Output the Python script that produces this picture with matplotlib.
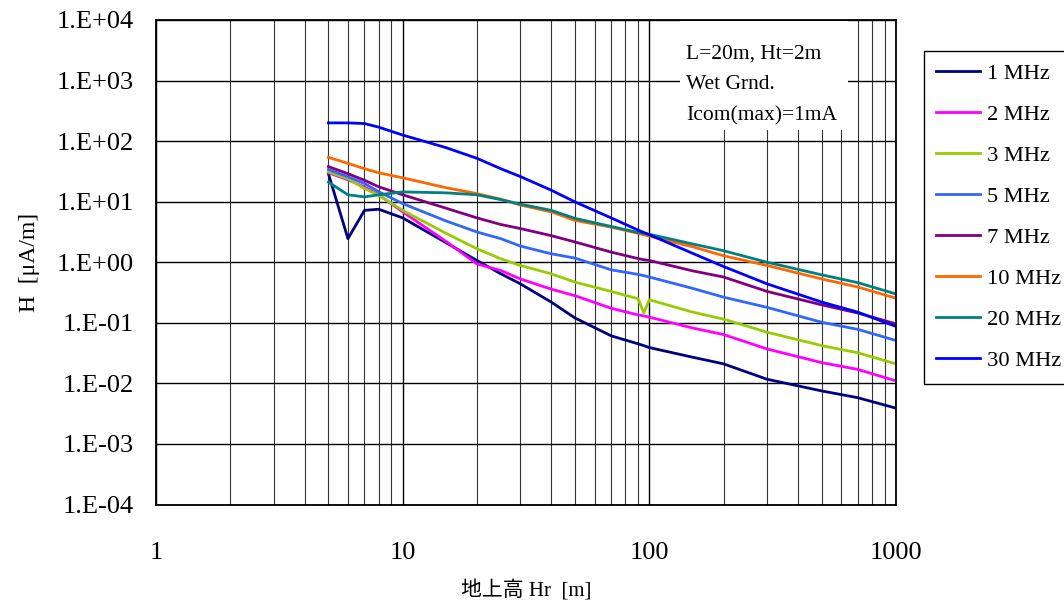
import matplotlib
matplotlib.use("Agg")
import matplotlib.pyplot as plt
from matplotlib.ticker import FixedLocator, NullFormatter, NullLocator

plt.rcParams['font.family'] = ['Liberation Serif', 'Noto Sans CJK JP', 'DejaVu Sans']

# Distance (Hr, m)
x = [5, 6, 7, 8, 10, 15, 20, 25, 30, 40, 50, 70, 90, 95, 100, 150, 200, 300, 500, 700, 1000]

# Magnetic field H [uA/m] per frequency
h_1mhz  = [29, 2.45, 7.2, 7.5, 5.4, 2.1, 1.07, 0.645, 0.44, 0.22, 0.12, 0.061, 0.045, 0.042, 0.039, 0.027, 0.021, 0.0117, 0.0075, 0.0058, 0.0039]
h_2mhz  = [30, 23, 17.5, 13, 6.8, 2.2, 0.94, 0.73, 0.53, 0.36, 0.28, 0.174, 0.135, 0.13, 0.124, 0.082, 0.064, 0.037, 0.022, 0.017, 0.011]
h_3mhz  = [31, 24, 16.5, 12.8, 7.2, 3.0, 1.67, 1.14, 0.885, 0.645, 0.47, 0.33, 0.25, 0.146, 0.24, 0.15, 0.115, 0.07, 0.042, 0.032, 0.021]
h_5mhz  = [34, 25.8, 20, 14.6, 9.3, 4.8, 3.16, 2.45, 1.85, 1.38, 1.17, 0.75, 0.63, 0.6, 0.57, 0.37, 0.265, 0.18, 0.102, 0.078, 0.051]
h_7mhz  = [38, 29, 22.6, 17.6, 13, 7.8, 5.4, 4.2, 3.6, 2.75, 2.16, 1.47, 1.15, 1.1, 1.07, 0.72, 0.57, 0.33, 0.198, 0.145, 0.096]
h_10mhz = [54, 43, 35, 30, 24.8, 17, 13.6, 11.0, 8.8, 6.8, 4.9, 3.8, 3.0, 2.85, 2.7, 1.8, 1.28, 0.885, 0.53, 0.39, 0.255]
h_20mhz = [21, 13, 12, 13, 14.5, 14, 13, 10.8, 9.1, 7.2, 5.3, 3.9, 3.1, 3.0, 2.9, 2.0, 1.55, 1.0, 0.62, 0.46, 0.30]
h_30mhz = [200, 200, 195, 170, 126, 78, 52, 35, 26, 15.5, 9.9, 5.4, 3.4, 3.1, 2.85, 1.4, 0.85, 0.44, 0.22, 0.15, 0.087]

series = [h_1mhz, h_2mhz, h_3mhz, h_5mhz, h_7mhz, h_10mhz, h_20mhz, h_30mhz]
labels = ["1 MHz", "2 MHz", "3 MHz", "5 MHz", "7 MHz", "10 MHz", "20 MHz", "30 MHz"]
colors = ["#000080", "#FF00FF", "#99CC00", "#3366FF", "#800080", "#FF6600", "#008080", "#0000FF"]

y_ticks = [1e-4, 1e-3, 1e-2, 1e-1, 1e0, 1e1, 1e2, 1e3, 1e4]
y_tick_labels = ["1.E-04", "1.E-03", "1.E-02", "1.E-01", "1.E+00", "1.E+01", "1.E+02", "1.E+03", "1.E+04"]
x_ticks = [1, 10, 100, 1000]
x_tick_labels = ["1", "10", "100", "1000"]

W, H = 1064, 603
fig = plt.figure(figsize=(W/100, H/100), dpi=100)
ax = fig.add_axes([156/W, 1-504.5/H, (896-156)/W, (504.5-20)/H])

for y, lab, c in zip(series, labels, colors):
    ax.plot(x, y, color=c, lw=2.0, label=lab, zorder=3)

ax.set_xscale('log')
ax.set_yscale('log')
ax.set_xlim(1, 1000)
ax.set_ylim(1e-4, 1e4)

ax.xaxis.set_major_locator(FixedLocator(x_ticks))
ax.set_xticklabels(x_tick_labels)
minor_x = [m * d for d in [1, 10, 100] for m in range(2, 10)]
ax.xaxis.set_minor_locator(FixedLocator(minor_x))
ax.xaxis.set_minor_formatter(NullFormatter())
ax.yaxis.set_major_locator(FixedLocator(y_ticks))
ax.set_yticklabels(y_tick_labels)
ax.yaxis.set_minor_locator(NullLocator())

ax.grid(True, which='major', color='black', lw=1.0)
ax.grid(True, which='minor', axis='x', color='#333333', lw=0.8)
ax.tick_params(axis='both', which='both', length=0, labelsize=19)
ax.tick_params(axis='y', pad=16)
ax.tick_params(axis='x', pad=27)
for s in ax.spines.values():
    s.set_color('black')
    s.set_linewidth(1.3)
    s.set_zorder(6)

ax.set_ylabel("H  [μA/m]", fontsize=17, labelpad=12)
ax.set_xlabel("地上高 Hr  [m]", fontsize=15, labelpad=12)

# white annotation panel
ax.add_patch(plt.Rectangle((680/W, 1-130/H), (848-680)/W, (130-21.5)/H, transform=fig.transFigure,
                           facecolor='white', edgecolor='none', zorder=4))
fig.text(686/W, 1-85/H, "L=20m, Ht=2m\nWet Grnd.\nIcom(max)=1mA",
         fontsize=15.5, va='center', ha='left', linespacing=1.82, zorder=5)

leg = fig.legend(loc='upper left', bbox_to_anchor=(924/W, 1-51/H), fontsize=16.2,
                 frameon=True, fancybox=False, edgecolor='black', framealpha=1,
                 handlelength=1.95, labelspacing=0.9, borderpad=0.55, handletextpad=0.3,
                 borderaxespad=0)
leg.get_frame().set_linewidth(1.0)

fig.savefig("out.png", dpi=100)
